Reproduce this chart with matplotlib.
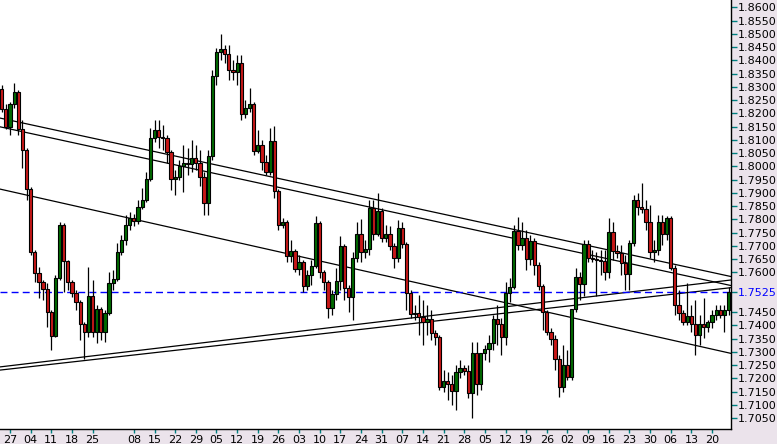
import numpy as np
import pandas as pd
import matplotlib
matplotlib.use("Agg")
import matplotlib.pyplot as plt

# daily GBP/USD style candles
opens = [1.8292, 1.8216, 1.8149, 1.8235, 1.8280, 1.8141, 1.8062, 1.7914, 1.7676, 1.7598,
         1.7563, 1.7537, 1.7450, 1.7359, 1.7579, 1.7778, 1.7642, 1.7563, 1.7522, 1.7487,
         1.7405, 1.7374, 1.7510, 1.7374, 1.7461, 1.7374, 1.7447, 1.7560, 1.7575, 1.7676,
         1.7722, 1.7778, 1.7805, 1.7793, 1.7847, 1.7873, 1.7952, 1.8107, 1.8137, 1.8111,
         1.8107, 1.8054, 1.7952, 1.7960, 1.8001, 1.8013, 1.8009, 1.8032, 1.8013, 1.7960,
         1.7862, 1.8039, 1.8340, 1.8431, 1.8443, 1.8424, 1.8363, 1.8355, 1.8390, 1.8197,
         1.8220, 1.8235, 1.8058, 1.8080, 1.8016, 1.7978, 1.8095, 1.7907, 1.7778, 1.7789,
         1.7661, 1.7680, 1.7612, 1.7638, 1.7548, 1.7590, 1.7623, 1.7786, 1.7601, 1.7563,
         1.7465, 1.7518, 1.7567, 1.7699, 1.7541, 1.7507, 1.7654, 1.7745, 1.7676, 1.7688,
         1.7843, 1.7745, 1.7831, 1.7730, 1.7745, 1.7699, 1.7654, 1.7767, 1.7707, 1.7522,
         1.7443, 1.7447, 1.7432, 1.7412, 1.7424, 1.7371, 1.7356, 1.7168, 1.7190, 1.7179,
         1.7152, 1.7223, 1.7239, 1.7227, 1.7145, 1.7296, 1.7179, 1.7296, 1.7311, 1.7334,
         1.7424, 1.7405, 1.7356, 1.7522, 1.7544, 1.7756, 1.7703, 1.7730, 1.7650, 1.7718,
         1.7627, 1.7548, 1.7450, 1.7374, 1.7348, 1.7273, 1.7168, 1.7250, 1.7205, 1.7461,
         1.7582, 1.7556, 1.7707, 1.7654, 1.7650, 1.7646, 1.7642, 1.7601, 1.7752, 1.7680,
         1.7673, 1.7635, 1.7594, 1.7711, 1.7873, 1.7847, 1.7839, 1.7789, 1.7676, 1.7684,
         1.7789, 1.7745, 1.7805, 1.7616, 1.7476, 1.7447, 1.7412, 1.7435, 1.7405, 1.7363,
         1.7405, 1.7394, 1.7412, 1.7439, 1.7458, 1.7439, 1.7458]
highs = [1.8307, 1.8235, 1.8242, 1.8315, 1.8288, 1.8175, 1.8069, 1.7922, 1.7684, 1.7620,
         1.7571, 1.7560, 1.7458, 1.7590, 1.7789, 1.7786, 1.7646, 1.7571, 1.7533, 1.7495,
         1.7412, 1.7620, 1.7571, 1.7476, 1.7469, 1.7458, 1.7601, 1.7609, 1.7711, 1.7741,
         1.7816, 1.7827, 1.7820, 1.7873, 1.7918, 1.7978, 1.8145, 1.8175, 1.8175, 1.8156,
         1.8118, 1.8062, 1.7986, 1.8024, 1.8080, 1.8069, 1.8099, 1.8080, 1.8062, 1.7978,
         1.8062, 1.8363, 1.8447, 1.8499, 1.8458, 1.8458, 1.8401, 1.8420, 1.8420, 1.8250,
         1.8296, 1.8242, 1.8137, 1.8099, 1.8043, 1.8145, 1.8152, 1.7914, 1.7805, 1.7797,
         1.7722, 1.7688, 1.7665, 1.7646, 1.7609, 1.7646, 1.7812, 1.7793, 1.7609, 1.7571,
         1.7533, 1.7616, 1.7737, 1.7707, 1.7552, 1.7676, 1.7789, 1.7801, 1.7722, 1.7873,
         1.7873, 1.7900, 1.7843, 1.7778, 1.7774, 1.7711, 1.7797, 1.7789, 1.7714, 1.7533,
         1.7476, 1.7514, 1.7495, 1.7476, 1.7458, 1.7382, 1.7363, 1.7231, 1.7223, 1.7212,
         1.7250, 1.7269, 1.7250, 1.7250, 1.7337, 1.7337, 1.7288, 1.7326, 1.7363, 1.7439,
         1.7476, 1.7428, 1.7563, 1.7579, 1.7778, 1.7808, 1.7789, 1.7760, 1.7741, 1.7730,
         1.7638, 1.7556, 1.7458, 1.7390, 1.7363, 1.7288, 1.7326, 1.7307, 1.7420, 1.7616,
         1.7601, 1.7722, 1.7722, 1.7684, 1.7676, 1.7684, 1.7684, 1.7805, 1.7789, 1.7703,
         1.7703, 1.7665, 1.7722, 1.7892, 1.7900, 1.7937, 1.7873, 1.7854, 1.7722, 1.7816,
         1.7816, 1.7812, 1.7812, 1.7627, 1.7533, 1.7458, 1.7560, 1.7476, 1.7495, 1.7439,
         1.7503, 1.7420, 1.7458, 1.7476, 1.7476, 1.7476, 1.7544]
lows = [1.8204, 1.8141, 1.8118, 1.8220, 1.8118, 1.7994, 1.7873, 1.7665, 1.7563, 1.7503,
        1.7495, 1.7394, 1.7307, 1.7356, 1.7571, 1.7525, 1.7533, 1.7507, 1.7458, 1.7345,
        1.7273, 1.7356, 1.7356, 1.7334, 1.7345, 1.7337, 1.7439, 1.7533, 1.7567, 1.7665,
        1.7703, 1.7760, 1.7774, 1.7782, 1.7839, 1.7865, 1.7944, 1.8091, 1.8069, 1.8062,
        1.8013, 1.7911, 1.7892, 1.7948, 1.7903, 1.7967, 1.7978, 1.7986, 1.7925, 1.7816,
        1.7816, 1.8024, 1.8307, 1.8401, 1.8390, 1.8326, 1.8326, 1.8307, 1.8175, 1.8182,
        1.8204, 1.8043, 1.8051, 1.7986, 1.7967, 1.7967, 1.7881, 1.7760, 1.7767, 1.7638,
        1.7638, 1.7601, 1.7590, 1.7525, 1.7533, 1.7552, 1.7616, 1.7579, 1.7533, 1.7428,
        1.7439, 1.7495, 1.7533, 1.7495, 1.7450, 1.7420, 1.7638, 1.7638, 1.7654, 1.7665,
        1.7722, 1.7737, 1.7714, 1.7714, 1.7684, 1.7616, 1.7638, 1.7692, 1.7458, 1.7428,
        1.7420, 1.7363, 1.7326, 1.7363, 1.7345, 1.7326, 1.7156, 1.7148, 1.7118, 1.7099,
        1.7080, 1.7201, 1.7212, 1.7126, 1.7050, 1.7137, 1.7156, 1.7269, 1.7262, 1.7307,
        1.7326, 1.7288, 1.7326, 1.7487, 1.7537, 1.7684, 1.7684, 1.7609, 1.7627, 1.7590,
        1.7533, 1.7382, 1.7363, 1.7326, 1.7231, 1.7130, 1.7148, 1.7194, 1.7194, 1.7450,
        1.7495, 1.7510, 1.7638, 1.7638, 1.7510, 1.7590, 1.7571, 1.7579, 1.7646, 1.7654,
        1.7590, 1.7533, 1.7533, 1.7699, 1.7816, 1.7824, 1.7760, 1.7654, 1.7638, 1.7665,
        1.7703, 1.7722, 1.7609, 1.7439, 1.7420, 1.7401, 1.7401, 1.7374, 1.7288, 1.7326,
        1.7352, 1.7374, 1.7390, 1.7420, 1.7428, 1.7374, 1.7439]
closes = [1.8216, 1.8149, 1.8235, 1.8280, 1.8141, 1.8062, 1.7914, 1.7676, 1.7598, 1.7563,
          1.7537, 1.7450, 1.7359, 1.7579, 1.7778, 1.7642, 1.7563, 1.7522, 1.7487, 1.7405,
          1.7374, 1.7510, 1.7374, 1.7461, 1.7374, 1.7447, 1.7560, 1.7575, 1.7676, 1.7722,
          1.7778, 1.7805, 1.7793, 1.7847, 1.7873, 1.7952, 1.8107, 1.8137, 1.8111, 1.8107,
          1.8054, 1.7952, 1.7960, 1.8001, 1.8013, 1.8009, 1.8032, 1.8013, 1.7960, 1.7862,
          1.8039, 1.8340, 1.8431, 1.8443, 1.8424, 1.8363, 1.8355, 1.8390, 1.8197, 1.8220,
          1.8235, 1.8058, 1.8080, 1.8016, 1.7978, 1.8095, 1.7907, 1.7778, 1.7789, 1.7661,
          1.7680, 1.7612, 1.7638, 1.7548, 1.7590, 1.7623, 1.7786, 1.7601, 1.7563, 1.7465,
          1.7518, 1.7567, 1.7699, 1.7541, 1.7507, 1.7654, 1.7745, 1.7676, 1.7688, 1.7843,
          1.7745, 1.7831, 1.7730, 1.7745, 1.7699, 1.7654, 1.7767, 1.7707, 1.7522, 1.7443,
          1.7447, 1.7432, 1.7412, 1.7424, 1.7371, 1.7356, 1.7168, 1.7190, 1.7179, 1.7152,
          1.7223, 1.7239, 1.7227, 1.7145, 1.7296, 1.7179, 1.7296, 1.7311, 1.7334, 1.7424,
          1.7405, 1.7356, 1.7522, 1.7544, 1.7756, 1.7703, 1.7730, 1.7650, 1.7718, 1.7627,
          1.7548, 1.7450, 1.7374, 1.7348, 1.7273, 1.7168, 1.7250, 1.7205, 1.7461, 1.7582,
          1.7556, 1.7707, 1.7654, 1.7650, 1.7646, 1.7642, 1.7601, 1.7752, 1.7680, 1.7673,
          1.7635, 1.7594, 1.7711, 1.7873, 1.7847, 1.7839, 1.7789, 1.7676, 1.7684, 1.7789,
          1.7745, 1.7805, 1.7616, 1.7476, 1.7447, 1.7412, 1.7435, 1.7405, 1.7363, 1.7405,
          1.7394, 1.7412, 1.7439, 1.7458, 1.7439, 1.7458, 1.7525]

# trend lines: price at left edge, price at right edge
trend_lines = [(1.8182, 1.7584), (1.8149, 1.7550), (1.7914, 1.7294),
               (1.7243, 1.7571), (1.7231, 1.7542)]
last_price = 1.7525

dates = pd.bdate_range("2005-06-23", periods=len(opens))
o = np.array(opens); h = np.array(highs); l = np.array(lows); c = np.array(closes)
idx = np.arange(len(o))

fig = plt.figure(figsize=(7.77, 4.44), dpi=100)
fig.patch.set_facecolor("#ebe3eb")
ax = fig.add_axes([0, 15 / 444, 731 / 777, 429 / 444])
ax.set_facecolor("white")

x0, x1 = -0.42, 176.6
ax.set_xlim(x0, x1)
ax.set_ylim(1.70087, 1.86275)

# trend lines
for a, b in trend_lines:
    ax.plot([x0, x1], [a, b], color="black", lw=0.9, zorder=1)

ax.axhline(last_price, color="#0000ff", lw=1.0, ls=(0, (5, 3)), zorder=1.5)

# wicks
ax.vlines(idx, l, h, color="black", lw=0.9, zorder=2)
up = c >= o
bottoms = np.minimum(o, c)
heights = np.maximum(np.abs(c - o), 0.00015)
ax.bar(idx[up], heights[up], bottom=bottoms[up], width=0.78,
       color="#006a00", edgecolor="black", linewidth=0.8, zorder=3)
ax.bar(idx[~up], heights[~up], bottom=bottoms[~up], width=0.78,
       color="#c81818", edgecolor="black", linewidth=0.8, zorder=3)

# axes look
for s in ["left", "top"]:
    ax.spines[s].set_visible(False)
for s in ["right", "bottom"]:
    ax.spines[s].set_color("black")
    ax.spines[s].set_linewidth(1.0)

yt = [round(1.705 + 0.005 * k, 4) for k in range(32)]
yt = [v for v in yt if v not in (1.75, 1.755)] + [last_price]
ax.yaxis.tick_right()
ax.set_yticks(yt)
ax.set_yticklabels(["%.4f" % v for v in yt], fontsize=8)
ax.get_yticklabels()[-1].set_color("#0000ff")
ax.tick_params(axis="y", direction="out", length=4, width=1, color="#008080", pad=1)

mondays = [i for i, d in enumerate(dates) if d.weekday() == 0 and not (d.month == 8 and d.day == 1)]
ax.set_xticks(mondays)
ax.set_xticklabels(["%02d" % dates[i].day for i in mondays], fontsize=8)
ax.tick_params(axis="x", direction="out", length=3, width=1, color="#008080", pad=1)

fig.savefig("out.png", dpi=100, facecolor=fig.get_facecolor())
